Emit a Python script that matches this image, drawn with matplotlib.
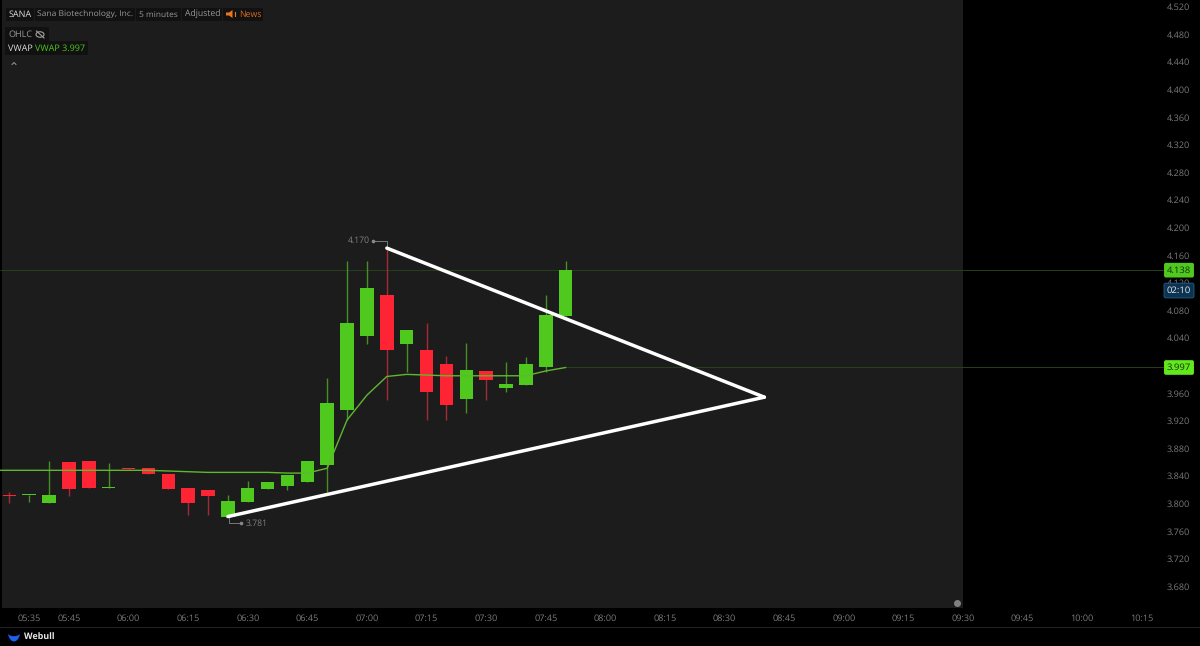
import matplotlib
matplotlib.use('Agg')
import matplotlib.pyplot as plt
from matplotlib.patches import Rectangle, PathPatch, Ellipse
from matplotlib.path import Path
from matplotlib.lines import Line2D

plt.rcParams['font.family'] = ['Open Sans', 'DejaVu Sans']
plt.rcParams['text.hinting'] = 'no_hinting'

def mins(s):
    return int(s[:2]) * 60 + int(s[3:])

times = ['05:30', '05:35', '05:40', '05:45', '05:50', '05:55', '06:00', '06:05', '06:10', '06:15',
         '06:20', '06:25', '06:30', '06:35', '06:40', '06:45', '06:50', '06:55', '07:00', '07:05',
         '07:10', '07:15', '07:20', '07:25', '07:30', '07:35', '07:40', '07:45', '07:50']
opens = [3.812, 3.812, 3.801, 3.860, 3.862, 3.822, 3.852, 3.852, 3.843, 3.822,
         3.819, 3.781, 3.802, 3.821, 3.826, 3.831, 3.855, 3.935, 4.042, 4.102,
         4.031, 4.022, 4.002, 3.951, 3.992, 3.967, 3.972, 3.997, 4.072]
highs = [3.817, 3.812, 3.862, 3.860, 3.862, 3.859, 3.852, 3.852, 3.843, 3.822,
         3.819, 3.812, 3.832, 3.831, 3.841, 3.862, 3.982, 4.152, 4.152, 4.170,
         4.052, 4.062, 4.013, 4.032, 3.992, 4.005, 4.012, 4.102, 4.152]
lows = [3.801, 3.802, 3.801, 3.811, 3.822, 3.822, 3.850, 3.842, 3.821, 3.783,
        3.783, 3.781, 3.802, 3.821, 3.820, 3.831, 3.817, 3.921, 4.031, 3.950,
        3.991, 3.921, 3.921, 3.931, 3.950, 3.961, 3.972, 3.991, 4.072]
closes = [3.811, 3.812, 3.812, 3.821, 3.822, 3.823, 3.850, 3.842, 3.821, 3.801,
          3.811, 3.803, 3.822, 3.831, 3.841, 3.862, 3.946, 4.062, 4.112, 4.022,
          4.052, 3.961, 3.942, 3.993, 3.979, 3.973, 4.002, 4.073, 4.138]
vwap = [3.848, 3.848, 3.848, 3.848, 3.848, 3.848, 3.848, 3.848, 3.847, 3.846,
        3.845, 3.845, 3.845, 3.845, 3.844, 3.844, 3.851, 3.921, 3.957, 3.984,
        3.987, 3.986, 3.985, 3.985, 3.985, 3.985, 3.985, 3.992, 3.997]

wedge_top = [('07:05', 4.170), ('08:40', 3.954)]
wedge_bot = [('06:25', 3.781), ('08:40', 3.954)]

price_ticks = [4.52, 4.48, 4.44, 4.40, 4.36, 4.32, 4.28, 4.24, 4.20, 4.16, 4.12, 4.08, 4.04,
               4.00, 3.96, 3.92, 3.88, 3.84, 3.80, 3.76, 3.72, 3.68]
time_ticks = ['05:35', '05:45', '06:00', '06:15', '06:30', '06:45', '07:00', '07:15', '07:30', '07:45',
              '08:00', '08:15', '08:30', '08:45', '09:00', '09:15', '09:30', '09:45', '10:00', '10:15']
last_price = 4.138
last_vwap = 3.997

GREEN = '#4fc91e'
RED = '#ff2433'
GREEN_W = '#468f26'
RED_W = '#a32a38'
PANEL = '#1c1c1c'
GREY = '#7a7a7a'

def fx(x):
    return x / 1200

def fy(y):
    return 1 - y / 646

fig = plt.figure(figsize=(12, 6.46), dpi=100, facecolor='black')
ax = fig.add_axes([0, fy(608), fx(1165), 608 / 646], facecolor='black')
x0 = 327.66
ax.set_xlim(x0, x0 + 1165 / 3.974)
ax.set_ylim(3.6485, 4.5295)
for s in ax.spines.values():
    s.set_visible(False)

# chart panel
ax.axvspan(x0 + 2 / 3.974, x0 + 963 / 3.974, color=PANEL, lw=0, zorder=0)

t = [mins(s) for s in times]
ax.hlines(last_price, x0, x0 + 1165 / 3.974, color='#25421a', lw=0.7, zorder=1)
ax.hlines(last_vwap, t[-1], x0 + 1165 / 3.974, color='#25421a', lw=0.7, zorder=1)

for i in range(len(t)):
    up = closes[i] >= opens[i]
    ax.vlines(t[i], lows[i], highs[i], color=GREEN_W if up else RED_W, lw=1.0, zorder=2)
    bottom = min(opens[i], closes[i])
    height = max(abs(closes[i] - opens[i]), 0.0012)
    ax.bar(t[i], height, bottom=bottom, width=3.4, color=GREEN if up else RED, lw=0, zorder=3)

# vwap runs on from the left edge of the panel
ax.plot([x0] + t, [vwap[0]] + vwap, color='#5fb82e', lw=1.0, zorder=4)

ax.plot([mins(a) for a, b in wedge_top], [b for a, b in wedge_top], color='white', lw=2.5,
        solid_capstyle='round', zorder=5)
ax.plot([mins(a) for a, b in wedge_bot], [b for a, b in wedge_bot], color='white', lw=2.5,
        solid_capstyle='round', zorder=5)

# high / low markers
hi_t, hi_v = mins('07:05'), 4.170
lo_t, lo_v = mins('06:25'), 3.781
ax.plot([hi_t, hi_t, hi_t - 3.4], [hi_v, hi_v + 0.010, hi_v + 0.010], color='#777777', lw=0.7, zorder=4)
ax.plot([hi_t - 3.4], [hi_v + 0.010], 'o', ms=1.6, color='#888888', zorder=4)
ax.text(hi_t - 4.3, hi_v + 0.011, '4.170', color='#808080', fontsize=6.2, ha='right', va='center')
ax.plot([lo_t + 0.2, lo_t + 0.2, lo_t + 3.4], [lo_v, lo_v - 0.010, lo_v - 0.010], color='#777777', lw=0.7, zorder=4)
ax.plot([lo_t + 3.4], [lo_v - 0.010], 'o', ms=1.6, color='#888888', zorder=4)
ax.text(lo_t + 4.5, lo_v - 0.010, '3.781', color='#808080', fontsize=6.2, ha='left', va='center')

ax.set_xticks([mins(s) for s in time_ticks])
ax.set_xticklabels(time_ticks)
ax.set_yticks(price_ticks)
ax.set_yticklabels(['%.3f' % p for p in price_ticks])
ax.yaxis.tick_right()
ax.tick_params(axis='x', length=0, colors=GREY, labelsize=6.6, pad=4)
ax.tick_params(axis='y', length=0, colors=GREY, labelsize=6.6, pad=1.5)

# price tags on the scale
ytr = ax.get_yaxis_transform()
ax.text(1.0 + 14 / 1165, last_price, '4.138', transform=ytr, ha='center', va='center', fontsize=6.8,
        color='#17300a', zorder=10,
        bbox=dict(boxstyle='round,pad=0.3,rounding_size=0.2', fc=GREEN, ec='none'))
ax.text(1.0 + 14 / 1165, 4.1085, '02:10', transform=ytr, ha='center', va='center', fontsize=6.8,
        color='#e4edf3', zorder=10,
        bbox=dict(boxstyle='round,pad=0.3,rounding_size=0.2', fc='#0e3350', ec='#1d5a85', lw=0.7))
ax.text(1.0 + 14 / 1165, last_vwap, '3.997', transform=ytr, ha='center', va='center', fontsize=6.8,
        color='#123008', zorder=10,
        bbox=dict(boxstyle='round,pad=0.3,rounding_size=0.2', fc='#62e81c', ec='none'))

# grey dot at bottom right of panel
fig.add_artist(Ellipse((fx(957.5), fy(603.5)), 7 / 1200, 7 / 646, transform=fig.transFigure, fc='#808080', ec='none'))

# header boxes
def box(x1, y1, x2, y2):
    fig.add_artist(Rectangle((fx(x1), fy(y2)), fx(x2 - x1), (y2 - y1) / 646, transform=fig.transFigure,
                             fc='#111111', ec='none'))

def label(x, y, s, color, size=6.5, weight='normal'):
    fig.text(fx(x), fy(y), s, color=color, fontsize=size, ha='left', va='center', fontweight=weight)

for b in [(6, 8, 34, 21), (35, 8, 135, 21), (136, 8, 181, 21), (182, 8, 222, 21), (223, 8, 263, 21),
          (5, 27, 49, 41), (5, 41, 88, 55)]:
    box(*b)
label(9, 14.5, 'SANA', '#dddddd')
label(37, 14.5, 'Sana Biotechnology, Inc.', '#999999', size=6.1)
label(139, 14.5, '5 minutes', '#999999', size=6.0)
label(185, 14.5, 'Adjusted', '#999999', size=6.2)
label(239, 14.5, 'News', '#d9681d', size=6.3)
label(8.5, 34.5, 'OHLC', '#999999')
label(8.5, 48.5, 'VWAP', '#dddddd')
label(35, 48.5, 'VWAP 3.997', '#4fc91e')

# speaker icon
fig.add_artist(plt.Polygon([(fx(226), fy(12.5)), (fx(229), fy(12.5)), (fx(232.5), fy(10)),
                            (fx(232.5), fy(18)), (fx(229), fy(15.5)), (fx(226), fy(15.5))],
                           transform=fig.transFigure, fc='#e8771f', ec='none'))
fig.add_artist(Line2D([fx(234.5), fx(234.5)], [fy(12), fy(16)], color='#e8771f', lw=0.8))

# eye icon with a slash
fig.add_artist(Ellipse((fx(40), fy(34.5)), 8 / 1200, 5.5 / 646, transform=fig.transFigure, fc='none', ec='#a0a0a0', lw=0.8))
fig.add_artist(Line2D([fx(36.5), fx(44)], [fy(31), fy(38)], color='#a0a0a0', lw=0.8))

# collapse chevron
fig.add_artist(Line2D([fx(12), fx(14), fx(16)], [fy(64.5), fy(62.5), fy(64.5)], color='#999999', lw=0.7))

# footer
fig.add_artist(Rectangle((0, fy(628)), 1, 1.5 / 646, transform=fig.transFigure, fc='#222222', ec='none'))
crescent = Path([(fx(8), fy(634)), (fx(10), fy(644)), (fx(18), fy(644)), (fx(20), fy(634)),
                 (fx(17), fy(637)), (fx(11), fy(637)), (fx(8), fy(634))],
                [Path.MOVETO, Path.CURVE4, Path.CURVE4, Path.CURVE4, Path.CURVE4, Path.CURVE4, Path.CURVE4])
fig.add_artist(PathPatch(crescent, transform=fig.transFigure, fc='#1f5cf0', ec='none'))
label(23.5, 637, 'Webull', '#e8e8e8', size=6.4, weight='bold')

fig.savefig('out.png', dpi=100, facecolor='black')
